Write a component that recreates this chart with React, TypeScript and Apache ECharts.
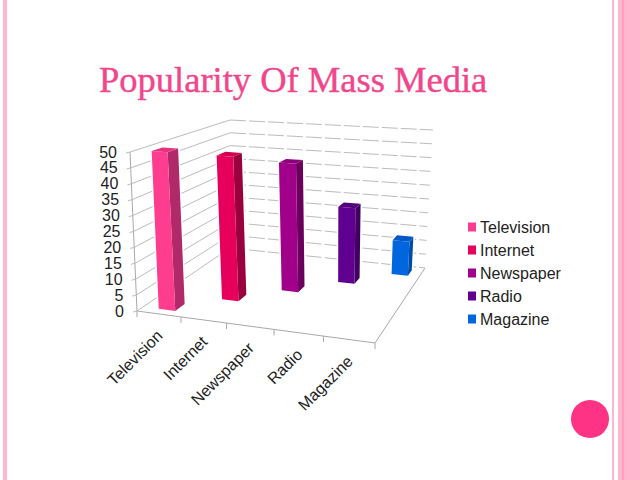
import React, { useEffect, useRef } from "react";
import * as echarts from "echarts";

const categories = ["Television", "Internet", "Newspaper", "Radio", "Magazine"];
const values = [50, 47, 43, 26, 12];
const frontColors = ["#ff3d8f", "#e6005c", "#a0008a", "#5f0090", "#0066dd"];
const sideColors = ["#b02a6a", "#99003d", "#6a005c", "#400060", "#004ca8"];
const topColors = ["#e8327f", "#d00053", "#8e007a", "#52007d", "#0059c4"];
const valueTicks = [0, 5, 10, 15, 20, 25, 30, 35, 40, 45, 50];
const titleText = "Popularity Of Mass Media";

type P = [number, number];
const FBL: P = [137, 311], FBR: P = [375, 343], BBL: P = [230, 248], BBR: P = [425, 268];
const FTL: P = [130, 152], FTR: P = [381, 173], BTL: P = [230, 120], BTR: P = [433, 130];
const lerp = (a: P, b: P, t: number): P => [a[0] + (b[0] - a[0]) * t, a[1] + (b[1] - a[1]) * t];

// projective map of the unit square onto a quad: (0,0) p0, (1,0) p1, (1,1) p2, (0,1) p3
const makeQuad = (p0: P, p1: P, p2: P, p3: P) => {
  const dx1 = p1[0] - p2[0], dx2 = p3[0] - p2[0], sx = p0[0] - p1[0] + p2[0] - p3[0];
  const dy1 = p1[1] - p2[1], dy2 = p3[1] - p2[1], sy = p0[1] - p1[1] + p2[1] - p3[1];
  const det = dx1 * dy2 - dx2 * dy1;
  const g = (sx * dy2 - dx2 * sy) / det;
  const h = (dx1 * sy - sx * dy1) / det;
  const a = p1[0] - p0[0] + g * p1[0], b = p3[0] - p0[0] + h * p3[0], c = p0[0];
  const d = p1[1] - p0[1] + g * p1[1], e = p3[1] - p0[1] + h * p3[1], f = p0[1];
  return (u: number, v: number): P => {
    const q = g * u + h * v + 1;
    return [(a * u + b * v + c) / q, (d * u + e * v + f) / q];
  };
};
const floorQuad = makeQuad(FBL, FBR, BBR, BBL);
const topQuad = makeQuad(FTL, FTR, BTR, BTL);
const project = (u: number, d: number, w: number): P => lerp(floorQuad(u, d), topQuad(u, d), w);

const toUnit = (api: any, params: any, cat: number, val: number) => {
  const c = api.coord([cat, val]);
  const s = params.coordSys;
  return [(c[0] - s.x) / s.width, 1 - (c[1] - s.y) / s.height];
};

const barItem = (i: number) => (params: any, api: any) => {
  const cat = api.value(0) as number;
  const val = api.value(1) as number;
  const [uc, w] = toUnit(api, params, cat, val);
  const du = 0.038;
  const dd = 0.045;
  const u0 = uc + 0.01 - du, u1 = uc + 0.01 + du, d0 = uc - dd, d1 = uc + dd;
  const poly = (pts: P[], fill: string) => ({ type: "polygon", shape: { points: pts }, style: { fill } });
  const hull = [project(u0, d0, 0), project(u1, d0, 0), project(u1, d1, 0), project(u1, d1, w), project(u0, d1, w), project(u0, d0, w)];
  return {
    type: "group",
    children: [
      { type: "polygon", shape: { points: hull }, style: { fill: "#ffffff", stroke: "#ffffff", lineWidth: 3 } },
      poly([project(u1, d0, 0), project(u1, d1, 0), project(u1, d1, w), project(u1, d0, w)], sideColors[i]),
      poly([project(u0, d0, w), project(u1, d0, w), project(u1, d1, w), project(u0, d1, w)], topColors[i]),
      poly([project(u0, d0, 0), project(u1, d0, 0), project(u1, d0, w), project(u0, d0, w)], frontColors[i]),
    ],
  };
};

const wallItem = (params: any, api: any) => {
  const [, w] = toUnit(api, params, 0, api.value(1) as number);
  const tick = api.value(1) as number;
  const a = project(0, 0, w), b = project(0, 1, w), c = project(1, 1, w);
  const style = { stroke: "#bcbcbc", lineWidth: 1, fill: "none" };
  return {
    type: "group",
    children: [
      { type: "line", shape: { x1: a[0], y1: a[1], x2: b[0], y2: b[1] }, style },
      { type: "line", shape: { x1: b[0], y1: b[1], x2: c[0], y2: c[1] }, style: { ...style, lineDash: [16, 3] } },
      { type: "line", shape: { x1: a[0] - 4, y1: a[1] + 1, x2: a[0], y2: a[1] }, style },
      {
        type: "text",
        x: a[0] - 13,
        y: a[1],
        style: { text: String(tick), align: "right", verticalAlign: "middle", fill: "#222", font: "16px 'Liberation Sans'" },
      },
    ],
  };
};

const frameItem = () => {
  const style = { stroke: "#a8a8a8", lineWidth: 1, fill: "none" };
  const seg = (p: P, q: P) => ({ type: "line", shape: { x1: p[0], y1: p[1], x2: q[0], y2: q[1] }, style });
  const o = project(0, 0, 0);
  return {
    type: "group",
    children: [
      seg(FBL, FTL),
      seg(FBL, FBR),
      seg(FBR, BBR),
      seg(o, [o[0], o[1] + 6]),
    ],
  };
};

const categoryItem = (params: any, api: any) => {
  const cat = api.value(0) as number;
  const [uc] = toUnit(api, params, cat, 0);
  const edge = project(uc, 0, 0);
  const right = project(uc + 0.1, 0, 0);
  return {
    type: "group",
    children: [
      {
        type: "line",
        shape: { x1: right[0], y1: right[1], x2: right[0], y2: right[1] + 6 },
        style: { stroke: "#a8a8a8", lineWidth: 1 },
      },
      {
        type: "text",
        x: edge[0] + 1,
        y: edge[1] + 19,
        rotation: Math.PI / 4,
        style: {
          text: categories[cat],
          align: "right",
          verticalAlign: "middle",
          fill: "#222",
          font: "16px 'Liberation Sans'",
        },
      },
    ],
  };
};

export default function App() {
  const ref = useRef<HTMLDivElement>(null);
  useEffect(() => {
    const chart = echarts.init(ref.current!, undefined, { renderer: "svg" });
    const bars = categories.map((name, i) => ({
      name,
      type: "custom",
      z: 5,
      silent: true,
      itemStyle: { color: frontColors[i] },
      encode: { x: 0, y: 1 },
      data: [[name, values[i]]],
      renderItem: barItem(i),
    }));
    chart.setOption({
      animation: false,
      backgroundColor: "#ffffff",
      title: {
        text: titleText,
        left: 99,
        top: 61,
        padding: 0,
        textStyle: {
          fontFamily: "'Liberation Serif'",
          fontWeight: "normal",
          fontSize: 36.5,
          color: "#f0468c",
          textBorderColor: "#f0468c",
          textBorderWidth: 0.4,
        },
      },
      legend: {
        orient: "vertical",
        left: 468,
        top: 219,
        padding: 0,
        itemWidth: 8,
        itemHeight: 9,
        itemGap: 7,
        icon: "rect",
        data: categories,
        selectedMode: false,
        textStyle: { fontFamily: "'Liberation Sans'", fontSize: 16, color: "#222", padding: [0, 0, 0, -1] },
      },
      grid: { left: 137, top: 152, width: 238, height: 159 },
      xAxis: { type: "category", data: categories, show: false },
      yAxis: { type: "value", min: 0, max: 50, interval: 5, show: false },
      graphic: [
        { type: "rect", shape: { x: 3, y: 0, width: 4, height: 480 }, style: { fill: "#ffb6cf" } },
        { type: "rect", shape: { x: 612, y: 0, width: 2, height: 480 }, style: { fill: "#ffb6cf" } },
        { type: "rect", shape: { x: 618, y: 0, width: 22, height: 480 }, style: { fill: "#ffb6cf" } },
        { type: "rect", shape: { x: 622, y: 0, width: 2, height: 480 }, style: { fill: "#ff9fc0" } },
        { type: "circle", shape: { cx: 590, cy: 419, r: 19 }, style: { fill: "#ff3385" } },
      ],
      series: [
        { type: "custom", z: 1, silent: true, encode: { x: 0, y: 1 }, data: [[categories[0], 0]], renderItem: frameItem },
        {
          type: "custom",
          z: 2,
          silent: true,
          encode: { x: 0, y: 1 },
          data: valueTicks.map((t) => [categories[0], t]),
          renderItem: wallItem,
        },
        {
          type: "custom",
          z: 2,
          silent: true,
          encode: { x: 0, y: 1 },
          data: categories.map((c) => [c, 0]),
          renderItem: categoryItem,
        },
        ...bars,
      ],
    });
    return () => chart.dispose();
  }, []);
  return <div ref={ref} style={{ position: "fixed", left: 0, top: 0, width: 640, height: 480 }} />;
}
